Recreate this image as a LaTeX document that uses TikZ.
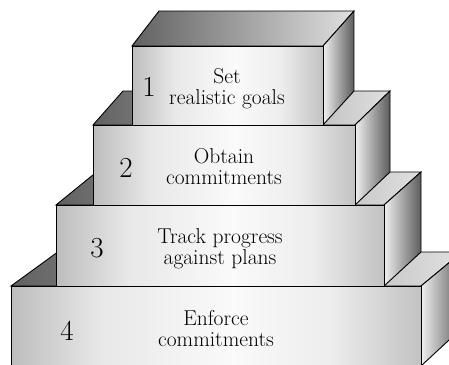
\documentclass[tikz,border=0pt]{standalone}
\pgfdeclarehorizontalshading{frontshade}{100bp}{%
  color(0bp)=(black!26); color(25bp)=(black!26); color(36bp)=(black!9);
  color(52bp)=(black!2); color(64bp)=(black!7); color(75bp)=(black!24);
  color(100bp)=(black!24)}
\tikzset{
  edge/.style={draw=black, line width=0.9pt, line join=miter},
  frontface/.style={edge, shading=frontshade},
  topface/.style={edge, left color=black!62, right color=black!12},
  sideface/.style={edge, left color=black!6, right color=black!64},
  steptext/.style={font=\fontsize{21.5}{22}\selectfont, anchor=base, inner sep=0pt},
  stepnum/.style={font=\fontsize{29}{29}\selectfont, inner sep=0pt},
}
\begin{document}
\begin{tikzpicture}[x=1pt, y=-1pt]
  \useasboundingbox (0,0) rectangle (449,364);
  \clip (0,0) rectangle (449,364);

  % step 4 (base)
  \path[topface]  (11,286) -- (57.75,252) -- (462,252) -- (421,286) -- cycle;
  \path[sideface] (421,286) -- (462,252) -- (462,328) -- (421,366) -- cycle;
  \path[frontface] (11,286) rectangle (421,366);

  % step 3
  \path[topface]  (56,205) -- (96.6,172) -- (421,172) -- (384,205) -- cycle;
  \path[sideface] (384,205) -- (421,172) -- (421,252) -- (384,286) -- cycle;
  \path[frontface] (56,205) rectangle (384,286);

  % step 2
  \path[topface]  (93,125) -- (123,91) -- (390,91) -- (355,125) -- cycle;
  \path[sideface] (355,125) -- (390,91) -- (390,172) -- (355,205) -- cycle;
  \path[frontface] (93,125) rectangle (355,205);

  % step 1 (top)
  \path[topface]  (132,46) -- (159,11) -- (354,11) -- (323,46) -- cycle;
  \path[sideface] (323,46) -- (354,11) -- (354,91) -- (323,125) -- cycle;
  \path[frontface] (132,46) rectangle (323,125);

  % labels
  \node[stepnum] (n1) at (149,87) {1};
  \node[steptext] (t1a) at (227,83)  {Set};
  \node[steptext] (t1b) at (227,104) {realistic goals};

  \node[stepnum] (n2) at (126,168) {2};
  \node[steptext] (t2a) at (224,163) {Obtain};
  \node[steptext] (t2b) at (224,184) {commitments};

  \node[stepnum] (n3) at (97,248) {3};
  \node[steptext] (t3a) at (220,243) {Track progress};
  \node[steptext] (t3b) at (220,264) {against plans};

  \node[stepnum] (n4) at (67,331) {4};
  \node[steptext] (t4a) at (216,325) {Enforce};
  \node[steptext] (t4b) at (216,346) {commitments};
\end{tikzpicture}
\end{document}
